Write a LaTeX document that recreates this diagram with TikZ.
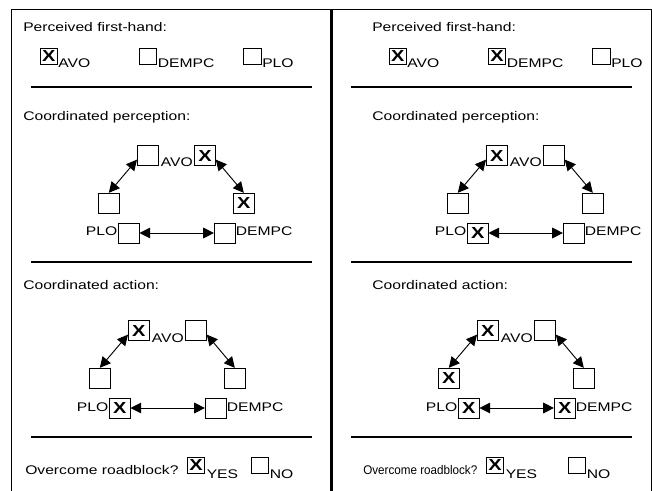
\documentclass[tikz,border=0pt]{standalone}
\usepackage{fontspec}
\setmainfont{Liberation Sans}[FakeStretch=1.25]
\newfontfamily\narrowfont{Liberation Sans}[FakeStretch=0.93]
\usetikzlibrary{arrows.meta}

\newcommand{\lblfont}{\fontsize{9.4pt}{11pt}\selectfont}
\newcommand{\xfont}{\fontsize{12pt}{13pt}\selectfont\bfseries}

\tikzset{
  lbl/.style={inner sep=0pt, font=\lblfont},
  rowbox/.style={draw, line width=0.7pt, inner sep=0pt, minimum width=13pt,
    minimum height=12pt, font=\xfont},
  bigbox/.style={rowbox, minimum width=15.5pt, minimum height=15pt},
  link/.style={line width=0.7pt, {Triangle[length=8pt,width=8pt]}-{Triangle[length=8pt,width=8pt]}},
  frame/.style={line width=0.9pt},
  divider/.style={line width=1.6pt},
  sep/.style={line width=0.8pt}
}

% triangle of boxes: #1 prefix, then marks of avoA, avoB, ploA, dempcA, ploB, dempcB
\newcommand{\triad}[7]{%
  \node[bigbox] (#1avoA) at (147.8,155.7) {#2};
  \node[bigbox] (#1avoB) at (205,155.7) {#3};
  \node[lbl, anchor=base west] (#1avo) at (160.5,167) {AVO};
  \node[bigbox] (#1ploA) at (108.8,203.3) {#4};
  \node[bigbox] (#1dempcA) at (243.8,203.3) {#5};
  \node[bigbox] (#1ploB) at (128.7,233) {#6};
  \node[bigbox] (#1dempcB) at (224.7,233) {#7};
  \node[lbl, anchor=base east] (#1plo) at (117.5,236) {PLO};
  \node[lbl, anchor=base west] (#1dempc) at (235.5,236) {DEMPC};
  \draw[link] (#1avoA.200) -- (#1ploA.north);
  \draw[link] (#1avoB.340) -- (#1dempcA.north);
  \draw[link] (#1ploB.east) -- (#1dempcB.west);
}

\begin{document}
\begin{tikzpicture}[x=0.75pt, y=-0.75pt]
\useasboundingbox (0,0) rectangle (652,491);
% frame
\draw[frame] (11.7,491) -- (11.7,9.5) -- (651.3,9.5) -- (651.3,491);
\draw[divider] (331.5,9.5) -- (331.5,491);
\foreach \ys in {87,262,437} {
  \draw[sep] (31,\ys) -- (312,\ys);
  \draw[sep] (351,\ys) -- (632,\ys);
}

% left panel
\node[lbl, anchor=base west] (lhead) at (23,32) {Perceived first-hand:};
\node[rowbox] (lfAvo) at (48.7,56) {X};
\node[lbl, anchor=base west] at (58,68) {AVO};
\node[rowbox] (lfDempc) at (148,56) {};
\node[lbl, anchor=base west] at (157.5,68) {DEMPC};
\node[rowbox] (lfPlo) at (252.5,56) {};
\node[lbl, anchor=base west] at (262,68) {PLO};
\node[lbl, anchor=base west] (lperc) at (23,121) {Coordinated perception:};
\triad{lp}{}{X}{}{X}{}{}
\node[lbl, anchor=base west] (lact) at (23,290) {Coordinated action:};
\begin{scope}[shift={(-9,175)}]
\triad{la}{X}{}{}{}{X}{}
\end{scope}
\node[lbl, anchor=base west] (lover) at (25,474) {Overcome roadblock?};
\node[rowbox] (lyes) at (196,465) {X};
\node[lbl, anchor=base west] at (206.5,478) {YES};
\node[rowbox] (lno) at (260,465) {};
\node[lbl, anchor=base west] at (269.5,478) {NO};

% right panel
\begin{scope}[shift={(349,0)}]
\node[lbl, anchor=base west] (rhead) at (23,32) {Perceived first-hand:};
\node[rowbox] (rfAvo) at (48.7,56) {X};
\node[lbl, anchor=base west] at (58,68) {AVO};
\node[rowbox] (rfDempc) at (148,56) {X};
\node[lbl, anchor=base west] at (157.5,68) {DEMPC};
\node[rowbox] (rfPlo) at (252.5,56) {};
\node[lbl, anchor=base west] at (262,68) {PLO};
\node[lbl, anchor=base west] (rperc) at (23,121) {Coordinated perception:};
\triad{rp}{X}{}{}{}{X}{}
\node[lbl, anchor=base west] (ract) at (23,290) {Coordinated action:};
\end{scope}
\begin{scope}[shift={(340,175)}]
\triad{ra}{X}{}{X}{}{X}{X}
\end{scope}
\node[lbl, anchor=base west, font=\lblfont\narrowfont] (rover) at (363,474) {Overcome roadblock?};
\node[rowbox] (ryes) at (495,465) {X};
\node[lbl, anchor=base west] at (505.5,478) {YES};
\node[rowbox] (rno) at (577,465) {};
\node[lbl, anchor=base west] at (586.5,478) {NO};
\end{tikzpicture}
\end{document}
